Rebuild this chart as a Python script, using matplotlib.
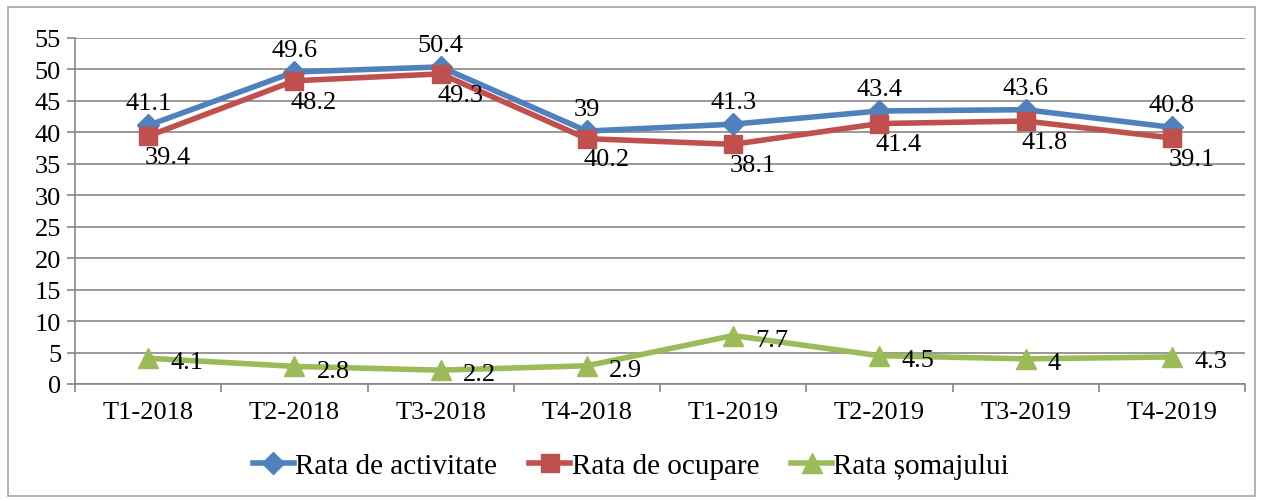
import numpy as np
import matplotlib
matplotlib.use("Agg")
import matplotlib.pyplot as plt
from matplotlib.patches import Rectangle

plt.rcParams['font.family'] = ['Liberation Serif', 'DejaVu Serif']

# Data
quarters = ["T1-2018", "T2-2018", "T3-2018", "T4-2018",
            "T1-2019", "T2-2019", "T3-2019", "T4-2019"]
activitate = [41.1, 49.6, 50.4, 40.2, 41.3, 43.4, 43.6, 40.8]
ocupare = [39.4, 48.2, 49.3, 39.0, 38.1, 41.4, 41.8, 39.1]
somaj = [4.1, 2.8, 2.2, 2.9, 7.7, 4.5, 4.0, 4.3]
# labels as printed in the source chart
activitate_lbl = ["41.1", "49.6", "50.4", "39", "41.3", "43.4", "43.6", "40.8"]
ocupare_lbl = ["39.4", "48.2", "49.3", "40.2", "38.1", "41.4", "41.8", "39.1"]
somaj_lbl = ["4.1", "2.8", "2.2", "2.9", "7.7", "4.5", "4", "4.3"]

blue = '#4F81BD'
red = '#C0504D'
green = '#9BBB59'
grid_col = '#868686'

fig = plt.figure(figsize=(12.62, 5.02), dpi=100)
ax = fig.add_axes([75/1262, 1-385/502, 1170/1262, 346/502])

x = np.arange(len(quarters))
ax.plot(x, activitate, color=blue, lw=4, marker='D', ms=11, label='Rata de activitate')
ax.plot(x, ocupare, color=red, lw=4, marker='s', ms=13, label='Rata de ocupare')
ax.plot(x, somaj, color=green, lw=4, marker='^', ms=14, label='Rata șomajului')

fs = 19
for xi, v, t in zip(x, activitate, activitate_lbl):
    ax.annotate(t, (xi, v), xytext=(0, 8), textcoords='offset points',
                ha='center', va='bottom', fontsize=fs)
for xi, v, t in zip(x, ocupare, ocupare_lbl):
    ax.annotate(t, (xi, v), xytext=(14, -7), textcoords='offset points',
                ha='center', va='top', fontsize=fs)
for xi, v, t in zip(x, somaj, somaj_lbl):
    ax.annotate(t, (xi, v), xytext=(16, -3), textcoords='offset points',
                ha='left', va='center', fontsize=fs)

ax.set_xlim(-0.5, len(quarters) - 0.5)
ax.set_ylim(0, 55)
ax.set_yticks(np.arange(0, 56, 5))
ax.yaxis.grid(True, color=grid_col, lw=1.2)
ax.set_axisbelow(True)

ax.set_xticks(x)
ax.set_xticklabels(quarters, fontsize=fs)
ax.set_xticks(np.arange(-0.5, len(quarters), 1), minor=True)
ax.tick_params(axis='x', which='major', length=0, pad=12)
ax.tick_params(axis='x', which='minor', length=6, color=grid_col, width=1.2)
ax.tick_params(axis='y', length=6, color=grid_col, width=1.2, labelsize=fs, pad=4)

for s in ['top', 'right']:
    ax.spines[s].set_visible(False)
for s in ['left', 'bottom']:
    ax.spines[s].set_color(grid_col)
    ax.spines[s].set_linewidth(1.2)

fig.legend(loc='center', bbox_to_anchor=(0.5, 1-467/502), ncol=3, frameon=False,
           fontsize=21, handlelength=1.4, handletextpad=0.05, columnspacing=1.1)

fig.patches.append(Rectangle((8/1262, 1-497/502), 1247/1262, 489/502,
                             transform=fig.transFigure, fill=False,
                             edgecolor='#A6A6A6', lw=1.2))

fig.savefig('out.png', dpi=100)
